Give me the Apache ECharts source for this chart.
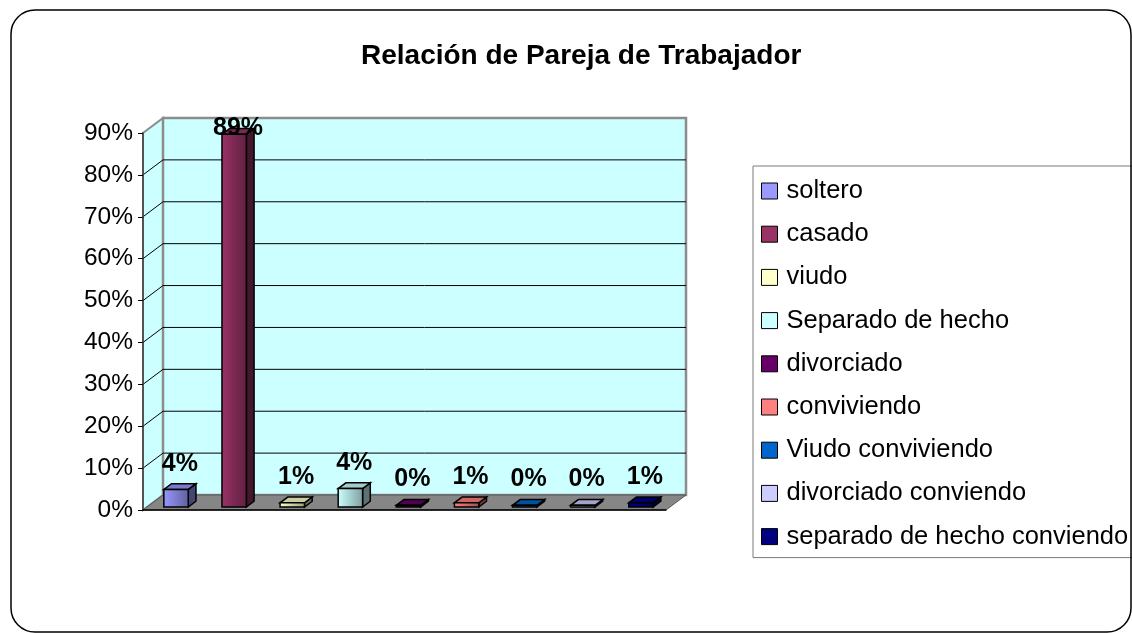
<!DOCTYPE html>
<html>
<head>
<meta charset="utf-8">
<script src="https://cdn.jsdelivr.net/npm/echarts@6/dist/echarts.min.js"></script>
<style>
html,body{margin:0;padding:0;background:#fff}
#main{width:1132px;height:633px}
</style>
</head>
<body>
<div id="main"></div>
<script>
var names = ['soltero', 'casado', 'viudo', 'Separado de hecho', 'divorciado', 'conviviendo', 'Viudo conviviendo', 'divorciado conviendo', 'separado de hecho conviendo'];
var values = [4.2, 89, 1, 4.4, 0.4, 1, 0.4, 0.4, 1];
var colors = ['#9999FF', '#993366', '#FFFFCC', '#CCFFFF', '#660066', '#FF8080', '#0066CC', '#CCCCFF', '#000080'];
var yTicks = [0, 10, 20, 30, 40, 50, 60, 70, 80, 90];

var FONT = '"Liberation Sans", Arial, sans-serif';
var DX = 20, DY = -15;   // depth of the 3d floor / walls
var F0 = 0.2, F1 = 0.585; // bar front and back inside the depth

function shade(hex, k){
    var n = parseInt(hex.slice(1), 16);
    var r = (n >> 16) & 255, g = (n >> 8) & 255, b = n & 255;
    return 'rgb(' + [Math.round(r * k), Math.round(g * k), Math.round(b * k)].join(',') + ')';
}

function renderWalls(params, api){
    var band = api.size([1, 0])[0];
    var p0 = api.coord([0, 0]);
    var x0 = p0[0] - band / 2;
    var x1 = api.coord([names.length - 1, 0])[0] + band / 2;
    var yb = p0[1];
    var yt = api.coord([0, yTicks[yTicks.length - 1]])[1];
    var kids = [];
    kids.push({type: 'polygon', shape: {points: [[x0, yb], [x0, yt], [x0 + DX, yt + DY], [x0 + DX, yb + DY]]},
        style: {fill: '#CCFFFF', stroke: '#8c8c8c', lineWidth: 2}});
    kids.push({type: 'rect', shape: {x: x0 + DX, y: yt + DY, width: x1 - x0, height: yb - yt},
        style: {fill: '#CCFFFF', stroke: '#8c8c8c', lineWidth: 2.5}});
    for (var i = 1; i < yTicks.length - 1; i++) {
        var y = api.coord([0, yTicks[i]])[1];
        kids.push({type: 'polyline', shape: {points: [[x0, y], [x0 + DX, y + DY], [x1 + DX, y + DY]]},
            style: {stroke: '#000', lineWidth: 1, fill: null}});
    }
    kids.push({type: 'polygon', shape: {points: [[x0, yb], [x1, yb], [x1 + DX, yb + DY], [x0 + DX, yb + DY]]},
        style: {fill: '#868686', stroke: '#555', lineWidth: 1}});
    return {type: 'group', children: kids};
}

function renderBar(params, api){
    var i = api.value(0), v = api.value(1);
    var band = api.size([1, 0])[0];
    var w = band * 0.42;
    var c = api.coord([i, 0]);
    var t = api.coord([i, v]);
    var xl = c[0] - w / 2 + F0 * DX, xr = xl + w;
    var yb = c[1] + F0 * DY, yt = t[1] + F0 * DY;
    var ddx = (F1 - F0) * DX, ddy = (F1 - F0) * DY;
    var base = colors[i];
    var topLimit = api.coord([0, yTicks[yTicks.length - 1]])[1] - 5;
    var ly = Math.max(yt + ddy - 20, topLimit);
    return {
        type: 'group',
        children: [
            {type: 'polygon', shape: {points: [[xr, yb], [xr, yt], [xr + ddx, yt + ddy], [xr + ddx, yb + ddy]]},
                style: {fill: shade(base, 0.45), stroke: '#000', lineWidth: 1.5}},
            {type: 'polygon', shape: {points: [[xl, yt], [xr, yt], [xr + ddx, yt + ddy], [xl + ddx, yt + ddy]]},
                style: {fill: shade(base, 0.8), stroke: '#000', lineWidth: 1.5}},
            {type: 'rect', shape: {x: xl, y: yt, width: w, height: yb - yt},
                style: {fill: new echarts.graphic.LinearGradient(0, 0, 1, 0, [
                    {offset: 0, color: base}, {offset: 1, color: shade(base, 0.62)}]),
                    stroke: '#000', lineWidth: 1.5}},
            {type: 'text', style: {text: Math.round(v) + '%', x: (xl + xr) / 2 + ddx / 2, y: ly,
                align: 'center', verticalAlign: 'middle', font: 'bold 25px ' + FONT, fill: '#000'}}
        ]
    };
}

var series = [{
    type: 'custom',
    name: 'walls',
    renderItem: renderWalls,
    data: [[0, 0]],
    silent: true,
    clip: false,
    z: 1
}];
for (var i = 0; i < names.length; i++) {
    series.push({
        type: 'custom',
        name: names[i],
        renderItem: renderBar,
        data: [[i, values[i]]],
        itemStyle: {color: colors[i]},
        clip: false,
        z: 3
    });
}

var chart = echarts.init(document.getElementById('main'));
var option = {
    animation: false,
    title: {
        text: 'Relación de Pareja de Trabajador',
        left: 356,
        top: 37,
        textStyle: {fontFamily: FONT, fontSize: 28, fontWeight: 'bold', color: '#000'}
    },
    legend: {
        data: names,
        orient: 'vertical',
        left: 753,
        top: 166,
        padding: [12, 4, 8, 8],
        itemWidth: 16,
        itemHeight: 16,
        itemGap: 17.2,
        icon: 'rect',
        borderColor: '#7a7a7a',
        borderWidth: 1,
        backgroundColor: '#fff',
        itemStyle: {borderColor: '#000', borderWidth: 1},
        textStyle: {fontFamily: FONT, fontSize: 25.5, color: '#000', lineHeight: 25, padding: [0, 0, 0, 4]},
        selectedMode: false
    },
    grid: {left: 143, top: 133, width: 523, height: 377},
    xAxis: {
        type: 'category',
        data: names,
        z: 5,
        axisLine: {lineStyle: {color: '#000', width: 1.5}},
        axisTick: {show: false},
        axisLabel: {show: false},
        splitLine: {show: false}
    },
    yAxis: {
        type: 'value',
        min: 0,
        max: 90,
        interval: 10,
        z: 5,
        axisLine: {show: true, lineStyle: {color: '#404040', width: 1.5}},
        axisTick: {show: true, length: 5, lineStyle: {color: '#000'}},
        axisLabel: {formatter: '{value}%', margin: 10, fontFamily: FONT, fontSize: 24.5, color: '#000'},
        splitLine: {show: false}
    },
    graphic: [{
        type: 'rect',
        shape: {x: 11, y: 10, width: 1120, height: 622, r: 24},
        style: {fill: null, stroke: '#000', lineWidth: 1.5},
        z: 100,
        silent: true
    }],
    series: series
};
chart.setOption(option);
</script>
</body>
</html>
